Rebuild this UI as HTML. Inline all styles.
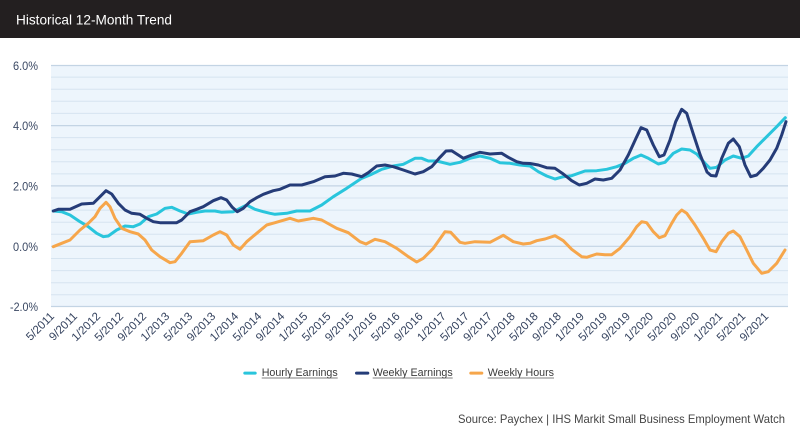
<!DOCTYPE html>
<html><head><meta charset="utf-8"><style>
html,body{margin:0;padding:0;background:#fff;}
svg{display:block;}
text{font-family:"Liberation Sans",Arial,sans-serif;}
</style></head><body>
<svg width="800" height="434" viewBox="0 0 800 434" xmlns="http://www.w3.org/2000/svg">
<rect x="0" y="0" width="800" height="434" fill="#ffffff"/>
<rect x="0" y="0" width="800" height="38" fill="#231f20"/>
<text x="16" y="24.5" font-size="14" fill="#ffffff" textLength="156" lengthAdjust="spacingAndGlyphs">Historical 12-Month Trend</text>

<rect x="51" y="65" width="737" height="242" fill="#edf5fc"/>
<g stroke="#d6e4f0" stroke-width="1">
<line x1="51" x2="788" y1="77.1" y2="77.1"/><line x1="51" x2="788" y1="89.2" y2="89.2"/><line x1="51" x2="788" y1="101.3" y2="101.3"/><line x1="51" x2="788" y1="113.4" y2="113.4"/>
<line x1="51" x2="788" y1="137.6" y2="137.6"/><line x1="51" x2="788" y1="149.7" y2="149.7"/><line x1="51" x2="788" y1="161.8" y2="161.8"/><line x1="51" x2="788" y1="173.9" y2="173.9"/>
<line x1="51" x2="788" y1="198" y2="198"/><line x1="51" x2="788" y1="210.1" y2="210.1"/><line x1="51" x2="788" y1="222.2" y2="222.2"/><line x1="51" x2="788" y1="234.3" y2="234.3"/>
<line x1="51" x2="788" y1="258.5" y2="258.5"/><line x1="51" x2="788" y1="270.6" y2="270.6"/><line x1="51" x2="788" y1="282.7" y2="282.7"/><line x1="51" x2="788" y1="294.8" y2="294.8"/>
</g>
<g stroke="#c3d4e4" stroke-width="1.2">
<line x1="51" x2="788" y1="65.5" y2="65.5"/><line x1="51" x2="788" y1="125.6" y2="125.6"/><line x1="51" x2="788" y1="185.9" y2="185.9"/><line x1="51" x2="788" y1="246.3" y2="246.3"/><line x1="51" x2="788" y1="306.5" y2="306.5"/>
</g>

<g font-size="12" fill="#3a4863" text-anchor="end">
<text x="38" y="70" textLength="25" lengthAdjust="spacingAndGlyphs">6.0%</text>
<text x="38" y="130" textLength="25" lengthAdjust="spacingAndGlyphs">4.0%</text>
<text x="38" y="190.5" textLength="25" lengthAdjust="spacingAndGlyphs">2.0%</text>
<text x="38" y="251" textLength="25" lengthAdjust="spacingAndGlyphs">0.0%</text>
<text x="38" y="311" textLength="28" lengthAdjust="spacingAndGlyphs">-2.0%</text>
</g>

<g font-size="11.5" fill="#34425e" text-anchor="end">
<text transform="translate(54.9,317) rotate(-45)">5/2011</text>
<text transform="translate(77.9,317) rotate(-45)">9/2011</text>
<text transform="translate(101,317) rotate(-45)">1/2012</text>
<text transform="translate(124,317) rotate(-45)">5/2012</text>
<text transform="translate(147,317) rotate(-45)">9/2012</text>
<text transform="translate(170.1,317) rotate(-45)">1/2013</text>
<text transform="translate(193.1,317) rotate(-45)">5/2013</text>
<text transform="translate(216.2,317) rotate(-45)">9/2013</text>
<text transform="translate(239.2,317) rotate(-45)">1/2014</text>
<text transform="translate(262.3,317) rotate(-45)">5/2014</text>
<text transform="translate(285.3,317) rotate(-45)">9/2014</text>
<text transform="translate(308.3,317) rotate(-45)">1/2015</text>
<text transform="translate(331.4,317) rotate(-45)">5/2015</text>
<text transform="translate(354.4,317) rotate(-45)">9/2015</text>
<text transform="translate(377.5,317) rotate(-45)">1/2016</text>
<text transform="translate(400.5,317) rotate(-45)">5/2016</text>
<text transform="translate(423.5,317) rotate(-45)">9/2016</text>
<text transform="translate(446.6,317) rotate(-45)">1/2017</text>
<text transform="translate(469.6,317) rotate(-45)">5/2017</text>
<text transform="translate(492.7,317) rotate(-45)">9/2017</text>
<text transform="translate(515.7,317) rotate(-45)">1/2018</text>
<text transform="translate(538.7,317) rotate(-45)">5/2018</text>
<text transform="translate(561.8,317) rotate(-45)">9/2018</text>
<text transform="translate(584.8,317) rotate(-45)">1/2019</text>
<text transform="translate(607.9,317) rotate(-45)">5/2019</text>
<text transform="translate(630.9,317) rotate(-45)">9/2019</text>
<text transform="translate(653.9,317) rotate(-45)">1/2020</text>
<text transform="translate(677,317) rotate(-45)">5/2020</text>
<text transform="translate(700,317) rotate(-45)">9/2020</text>
<text transform="translate(723.1,317) rotate(-45)">1/2021</text>
<text transform="translate(746.1,317) rotate(-45)">5/2021</text>
<text transform="translate(769.1,317) rotate(-45)">9/2021</text>
</g>

<g fill="none" stroke-width="3" stroke-linejoin="round" stroke-linecap="round">
<polyline stroke="#29c5dc" points="53.3,211 61.7,211.7 70,215 80,221.7 88.3,226.7 96.7,233.3 103.3,236.7 108.3,236 116.7,230 125,226 133.3,226.7 140,224 148.3,216.7 156.7,214 165,208.3 171.7,207.3 180,211 188.3,214 196.7,212.3 205,211 215,211 221.7,212.3 233.3,211.7 240,208.3 246.7,205 255,209.3 263.3,211.7 270,213.3 275,214.3 286.7,213.3 296.7,211 310,211 321.7,205 333.3,196.7 346.7,188.3 361.7,178.3 370,175 381.7,169.3 393.3,166 403.3,164.3 415,158.3 421.7,158.3 428.3,161 436.7,161 450,164.3 460,162.3 470,158.3 480,156 490,158.3 500,162.7 510,163.3 520,165 530,166 538.3,171.7 546.7,176 555,179 563.3,176.7 571.7,175.7 585,171 596.7,170.7 606.7,169.3 616.7,166.7 625,163.3 633.3,158.3 641,155 648.3,158.3 658.3,164 665,162.3 673.3,153.3 681.7,149 690,150 696.7,154 705,163.3 710,168.3 716.7,167.3 725,160 733.3,156 741.7,158.3 748.3,156 756.7,146.7 766.7,136.7 776.7,126.7 785.3,117.7"/>
<polyline stroke="#253c78" points="53.3,211 58.3,209.3 70,209.3 81.7,204 93.3,203.3 100,196.7 106,190.7 111.7,194 118.3,203.3 125,210 131.7,213.3 140,214.3 146.7,218.3 153.3,221.7 160,222.7 176.7,222.7 181.7,220 190,211.7 196.7,209.3 203.3,206.7 213.3,200.7 221,197.7 226.7,200 232.3,207.3 237.3,211.7 243.3,208.3 250,201.7 256.7,197.7 263.3,194.3 273.3,190.7 280,189.3 290,185 301.7,185 313.3,181.7 325,176.7 335,176 343.3,173.3 351.7,174 361.7,176.7 368.3,172.7 376.7,166 385,165 393.3,166.7 403.3,170 415,174 423.3,171.7 431.7,166.7 440,157.3 446,151 451.7,150.7 458.3,155 463.3,158.3 471.7,155 480,152.3 490,154 501.7,153.3 508.3,157.3 516.7,161.7 523.3,163.3 530,163.5 538.3,165 546.7,167.7 555,168.3 563.3,174 571.7,180.7 579.3,185 586.7,183.3 595,179 603.3,180 611.7,178.3 620,170 628.3,155 636,138.3 641,127.7 646.7,130 653.3,145 659.3,156.7 664,155 670,140 675.7,121.7 681.7,109.3 686.7,113.3 693.3,134 700,154.3 707,172 711,175.5 716,176 721.7,158.3 728.3,143.3 733.3,139 739.3,146.7 745,165 750.7,176.7 756.7,175 763.3,168.3 770,160 776.7,148.3 781.7,135 786,121.7"/>
<polyline stroke="#f6a64b" points="53.3,246.7 61.7,243.3 70,240 80,230 88.3,223.3 95,216.7 100,208.3 106,202.3 110,206.7 115,218.3 121.7,228.3 130,231.7 138.3,234 145,240 151.7,250 160,256.7 170,262.7 175,261.7 181.7,253.3 190,241.7 203.3,240.7 213.3,235 220,231.7 226.7,235 233.3,245 240,249.3 246.7,241.7 256.7,233.3 266.7,225 275,222.7 290,218.3 298.3,221 313.3,218.3 321.7,220 336.7,228.3 348.3,232.7 360,241.7 366,244 375,239.3 385,241.7 396.7,248.3 408.3,256.7 416.7,262 423.3,258.3 433.3,248.3 445,231.7 450.7,232.3 460,242.3 465,243.3 475,241.7 490,242.3 503.3,235.3 513.3,241.7 523.3,244 530,243.3 536.7,240.7 545,239 555,235.7 563.3,240.7 571.7,249.3 581.7,256.7 586.7,257.3 596.7,254 605,254.7 611.7,254.7 620,248.3 630,236.7 636.7,226.7 641.7,221.7 646.7,222.7 653.3,231.7 659.3,237.7 665,235.7 671.7,223.3 676.7,215 681.7,210 686.7,213.3 695,225 703.3,238.3 710,250 716,251.7 721.7,241.7 728.3,233.3 733.3,231 740,236.7 746.7,250 753.3,263.3 761.7,273.3 768.3,271.7 776.7,263.3 785,250"/>
</g>

<g font-size="11" fill="#3a3a3a">
<rect x="243.3" y="371.6" width="13.4" height="3" rx="1.5" fill="#29c5dc"/>
<text x="261.7" y="375.8" textLength="76" lengthAdjust="spacingAndGlyphs">Hourly Earnings</text>
<line x1="261.7" x2="337.7" y1="378" y2="378" stroke="#555" stroke-width="0.8"/>
<rect x="355" y="371.6" width="14.3" height="3" rx="1.5" fill="#253c78"/>
<text x="372.7" y="375.8" textLength="80" lengthAdjust="spacingAndGlyphs">Weekly Earnings</text>
<line x1="372.7" x2="452.7" y1="378" y2="378" stroke="#555" stroke-width="0.8"/>
<rect x="469.3" y="371.6" width="14" height="3" rx="1.5" fill="#f6a64b"/>
<text x="487.7" y="375.8" textLength="66.3" lengthAdjust="spacingAndGlyphs">Weekly Hours</text>
<line x1="487.7" x2="554" y1="378" y2="378" stroke="#555" stroke-width="0.8"/>
</g>

<text x="785" y="423" font-size="12" fill="#444" text-anchor="end" textLength="327" lengthAdjust="spacingAndGlyphs">Source: Paychex | IHS Markit Small Business Employment Watch</text>
</svg>
</body></html>
